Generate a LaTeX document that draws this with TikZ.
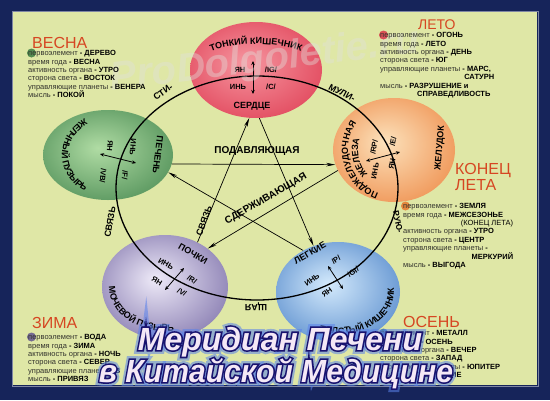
\documentclass[tikz,border=0pt]{standalone}
\usepackage{fontspec}
\setmainfont{Liberation Sans}
\usetikzlibrary{arrows.meta,shapes.geometric,decorations.text}

\definecolor{framenavy}{RGB}{22,36,90}
\definecolor{panelgreen}{RGB}{223,231,166}
\definecolor{seasonred}{RGB}{214,70,34}
\definecolor{labelgray}{RGB}{50,50,44}
\definecolor{firein}{RGB}{246,150,160}
\definecolor{fireout}{RGB}{214,30,56}
\definecolor{earthin}{RGB}{252,226,188}
\definecolor{earthout}{RGB}{232,104,26}
\definecolor{woodin}{RGB}{176,220,164}
\definecolor{woodout}{RGB}{36,108,52}
\definecolor{waterin}{RGB}{238,234,248}
\definecolor{waterout}{RGB}{80,64,138}
\definecolor{metalin}{RGB}{212,234,252}
\definecolor{metalout}{RGB}{30,96,182}
\definecolor{titleedge}{RGB}{24,18,110}
\definecolor{titleglow}{RGB}{90,130,235}
\definecolor{titlefill}{RGB}{244,232,246}
\definecolor{markgray}{RGB}{225,225,220}

\pgfdeclareradialshading{fireorb}{\pgfpoint{-4bp}{4bp}}{color(0bp)=(firein); color(48bp)=(fireout); color(50bp)=(fireout)}
\pgfdeclareradialshading{earthorb}{\pgfpoint{-4bp}{4bp}}{color(0bp)=(earthin); color(48bp)=(earthout); color(50bp)=(earthout)}
\pgfdeclareradialshading{woodorb}{\pgfpoint{-4bp}{4bp}}{color(0bp)=(woodin); color(48bp)=(woodout); color(50bp)=(woodout)}
\pgfdeclareradialshading{waterorb}{\pgfpoint{-4bp}{4bp}}{color(0bp)=(waterin); color(48bp)=(waterout); color(50bp)=(waterout)}
\pgfdeclareradialshading{metalorb}{\pgfpoint{-4bp}{4bp}}{color(0bp)=(metalin); color(48bp)=(metalout); color(50bp)=(metalout)}

\font\headglowfont="Liberation Sans/BI:embolden=24" at 32pt
\font\headedgefont="Liberation Sans/BI:embolden=10" at 32pt
\font\headfillfont="Liberation Sans/BI" at 32pt

\newcommand{\srow}[2]{\textcolor{labelgray}{#1} \textbf{- #2}}
\newcommand{\orgfont}{\fontsize{9}{9}\selectfont\bfseries}

\tikzset{
  organ/.style={ellipse,inner sep=0pt},
  orgname/.style={font=\orgfont,inner sep=0pt},
  yinyang/.style={font=\fontsize{7.5}{7.5}\selectfont\bfseries,inner sep=0pt},
  cycletext/.style={font=\fontsize{9}{9}\selectfont\bfseries,inner sep=0pt},
  penta/.style={line width=0.7pt,-{Stealth[length=9pt,width=3.5pt]}},
  meridian/.style={line width=0.8pt,{Stealth[length=4pt,width=3.5pt]}-{Stealth[length=4pt,width=3.5pt]}},
  season/.style={font=\fontsize{16}{13.5}\selectfont,text=seasonred,inner sep=0pt,anchor=base west,align=left},
  info/.style={font=\fontsize{7.5}{8.4}\selectfont,inner sep=0pt,anchor=north west,align=left},
  bullet/.style={circle,minimum size=9,inner sep=0pt,opacity=0.75},
  arctext/.style={decorate,decoration={text along path,text align=center}},
  headline/.style={inner sep=0pt,anchor=base}
}

\begin{document}
\begin{tikzpicture}[x=1pt,y=-1pt]
\useasboundingbox (0,0) rectangle (550,400);
\fill[framenavy] (0,0) rectangle (550,400);
\fill[panelgreen] (13,12) rectangle (537,385);
\draw[framenavy!55!white,line width=1pt] (12,11) rectangle (538,386);

% five organ circles
\node[organ,shading=fireorb,minimum width=132,minimum height=96] (fire) at (256,70) {};
\node[organ,shading=earthorb,minimum width=122,minimum height=104] (earth) at (394,150) {};
\node[organ,shading=woodorb,minimum width=130,minimum height=90] (wood) at (108,155) {};
\node[organ,shading=waterorb,minimum width=126,minimum height=104] (water) at (165,287) {};
\node[organ,shading=metalorb,minimum width=124,minimum height=100] (metal) at (338,292) {};

\draw[line width=1.3pt] (257,188) ellipse [x radius=141,y radius=112];

% pentagram
\draw[penta] (wood.-8) -- (earth.194);
\draw[penta] (earth.200) -- (water.42);
\draw[penta] (water.54) -- (fire.262);
\draw[penta] (fire.274) -- (metal.118);
\draw[penta] (metal.130) -- (wood.-16);
\node[cycletext,font=\fontsize{10}{10}\selectfont\bfseries] (suppress) at (257,151) {ПОДАВЛЯЮЩАЯ};
\node[cycletext,font=\fontsize{10}{10}\selectfont\bfseries,rotate=30] (restrain) at (266,199) {СДЕРЖИВАЮЩАЯ};
\node[cycletext,rotate=70] (link) at (204,221) {СВЯЗЬ};

% stimulating circle
\node[cycletext,rotate=35] (stim1) at (163,92) {СТИ-};
\node[cycletext,rotate=-28] (stim2) at (342,93) {МУЛИ-};
\node[cycletext,font=\fontsize{8.5}{8.5}\selectfont\bfseries,rotate=-78] (stim3) at (398,222) {РУЮ-};
\node[cycletext,rotate=180] (stim4) at (256,307) {ЩАЯ};
\node[cycletext,rotate=80] (stim5) at (110,222) {СВЯЗЬ};

% fire
\path[arctext,decoration={text={|\orgfont|ТОНКИЙ КИШЕЧНИК}}] (256,70) ++(180:64 and 26) arc[start angle=180,end angle=360,x radius=64,y radius=26];
\node[orgname] (heart) at (252,106) {СЕРДЦЕ};
\node[yinyang] (fireyang) at (240,70) {ЯН};
\node[yinyang] (fireyangm) at (271,70) {/IG/};
\node[yinyang] (fireyin) at (238,87) {ИНЬ};
\node[yinyang] (fireyinm) at (271,87) {/C/};
\coordinate (fireup) at (253,61);
\coordinate (firedown) at (253,94);
\draw[meridian] (fireup) -- (firedown);

% earth
\path[arctext,decoration={text={|\orgfont|ПОДЖЕЛУДОЧНАЯ}}] (394,150) ++(100:46 and 46) arc[start angle=100,end angle=225,x radius=46,y radius=46];
\path[arctext,decoration={text={|\orgfont|ЖЕЛЕЗА}}] (394,150) ++(125:36 and 36) arc[start angle=125,end angle=210,x radius=36,y radius=36];
\node[orgname,rotate=85] (stomach) at (440,148) {ЖЕЛУДОК};
\node[yinyang,rotate=80] (earthyinm) at (374,147) {/RP/};
\node[yinyang,rotate=80] (earthyangm) at (393,142) {/E/};
\node[yinyang,rotate=80] (earthyin) at (375,171) {ИНЬ};
\node[yinyang,rotate=80] (earthyang) at (392,164) {ЯН};
\coordinate (earthleft) at (366,161);
\coordinate (earthright) at (400,152);
\draw[meridian] (earthleft) -- (earthright);

% wood
\path[arctext,decoration={text={|\orgfont|ЖЕЛЧНЫЙ ПУЗЫРЬ}}] (108,155) ++(255:46 and 42) arc[start angle=255,end angle=105,x radius=46,y radius=42];
\node[orgname,rotate=-97] (liver) at (158,155) {ПЕЧЕНЬ};
\node[yinyang,rotate=-95] (woodyang) at (110,146) {ЯН};
\node[yinyang,rotate=-95] (woodyin) at (133,147) {ИНЬ};
\node[yinyang,rotate=-95] (woodyangm) at (103,176) {/VB/};
\node[yinyang,rotate=-95] (woodyinm) at (125,175) {/F/};
\coordinate (woodleft) at (100,154);
\coordinate (woodright) at (136,163);
\draw[meridian] (woodleft) -- (woodright);

% water
\path[arctext,decoration={text={|\orgfont|МОЧЕВОЙ ПУЗЫРЬ}}] (165,287) ++(200:56 and 44) arc[start angle=200,end angle=65,x radius=56,y radius=44];
\node[orgname,rotate=-30] (kidney) at (193,254) {ПОЧКИ};
\node[yinyang,rotate=-30] (wateryin) at (166,264) {ИНЬ};
\node[yinyang,rotate=-30] (wateryinm) at (192,280) {/R/};
\node[yinyang,rotate=-30] (wateryang) at (157,281) {ЯН};
\node[yinyang,rotate=-30] (wateryangm) at (182,292) {/V/};
\coordinate (waterup) at (184,268);
\coordinate (waterdown) at (165,290);
\draw[meridian] (waterup) -- (waterdown);

% metal
\path[arctext,decoration={text={|\orgfont|ТОЛСТЫЙ КИШЕЧНИК}}] (338,292) ++(125:56 and 42) arc[start angle=125,end angle=-25,x radius=56,y radius=42];
\node[orgname,rotate=30] (lungs) at (310,253) {ЛЕГКИЕ};
\node[yinyang,rotate=35] (metalyin) at (312,280) {ИНЬ};
\node[yinyang,rotate=35] (metalyinm) at (336,260) {/P/};
\node[yinyang,rotate=35] (metalyang) at (327,292) {ЯН};
\node[yinyang,rotate=35] (metalyangm) at (353,272) {/GI/};
\coordinate (metalup) at (328,266);
\coordinate (metaldown) at (343,289);
\draw[meridian] (metalup) -- (metaldown);

% watermark
\node[font=\fontsize{40}{40}\selectfont\bfseries\itshape,text=markgray,opacity=0.4,rotate=7] (mark) at (265,61) {ProDolgoletie.ru};

% seasons
\node[bullet,fill=woodout] (springdot) at (31.5,53) {};
\node[season] (spring) at (32,48) {ВЕСНА};
\node[info] (springinfo) at (28,50.3) {\srow{первоэлемент}{ДЕРЕВО}\\ \srow{время года}{ВЕСНА}\\ \srow{активность органа}{УТРО}\\ \srow{сторона света}{ВОСТОК}\\ \srow{управляющие планеты}{ВЕНЕРА}\\ \srow{мысль}{ПОКОЙ}};

\node[bullet,fill=fireout] (summerdot) at (383.5,35) {};
\node[season,font=\fontsize{14}{14}\selectfont] (summer) at (418,29.5) {ЛЕТО};
\node[info] (summerinfo) at (380,32.3) {\srow{первоэлемент}{ОГОНЬ}\\ \srow{время года}{ЛЕТО}\\ \srow{активность органа}{ДЕНЬ}\\ \srow{сторона света}{ЮГ}\\ \srow{управляющие планеты}{МАРС,}\\ \makebox[114pt][r]{\textbf{САТУРН}}\\ \srow{мысль}{РАЗРУШЕНИЕ и}\\ \hspace*{37pt}\textbf{СПРАВЕДЛИВОСТЬ}};

\node[bullet,fill=earthout] (latedot) at (405.5,206) {};
\node[season] (late) at (455,190) {КОНЕЦ\\ЛЕТА};
\node[info] (lateinfo) at (403,203.3) {\srow{первоэлемент}{ЗЕМЛЯ}\\ \srow{время года}{МЕЖСЕЗОНЬЕ}\\ \makebox[110pt][r]{(КОНЕЦ ЛЕТА)}\\ \srow{активность органа}{УТРО}\\ \srow{сторона света}{ЦЕНТР}\\ \textcolor{labelgray}{управляющие планеты} \textbf{-}\\ \makebox[110pt][r]{\textbf{МЕРКУРИЙ}}\\ \srow{мысль}{ВЫГОДА}};

\node[bullet,fill=waterout] (winterdot) at (31.5,337) {};
\node[season] (winter) at (32,328.5) {ЗИМА};
\node[info] (winterinfo) at (28,334.3) {\srow{первоэлемент}{ВОДА}\\ \srow{время года}{ЗИМА}\\ \srow{активность органа}{НОЧЬ}\\ \srow{сторона света}{СЕВЕР}\\ \srow{управляющие планеты}{В}\\ \srow{мысль}{ПРИВЯЗ}};

\node[bullet,fill=metalout] (autumndot) at (383.5,333) {};
\node[season] (autumn) at (403,327.5) {ОСЕНЬ};
\node[info] (autumninfo) at (380,330.3) {\srow{первоэлемент}{МЕТАЛЛ}\\ \srow{время года}{ОСЕНЬ}\\ \srow{активность органа}{ВЕЧЕР}\\ \srow{сторона света}{ЗАПАД}\\ \srow{управляющие планеты}{ЮПИТЕР}\\ \srow{мысль}{СТРЕМЛЕНИЕ}};

% title
\node[headline,font=\headglowfont,text=titleglow,opacity=0.55] (glow1) at (280,350) {Меридиан Печени};
\node[headline,font=\headglowfont,text=titleglow,opacity=0.55,xscale=0.94] (glow2) at (276,382) {в Китайской Медицине};
\node[headline,font=\headedgefont,text=titleedge] (edge1) at (280,350) {Меридиан Печени};
\node[headline,font=\headedgefont,text=titleedge,xscale=0.94] (edge2) at (276,382) {в Китайской Медицине};
\node[headline,font=\headfillfont,text=titlefill] (title1) at (280,350) {Меридиан Печени};
\node[headline,font=\headfillfont,text=titlefill,xscale=0.94] (title2) at (276,382) {в Китайской Медицине};
\end{tikzpicture}
\end{document}
